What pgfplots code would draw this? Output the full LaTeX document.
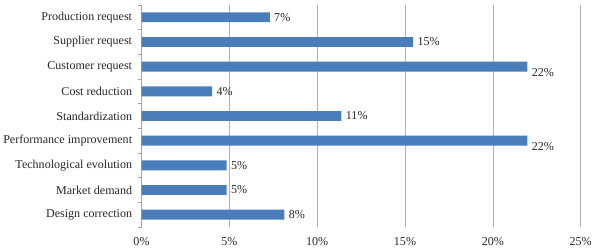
\documentclass[border=0pt]{standalone}
\usepackage{fontspec}
\setmainfont{Liberation Serif}
\usepackage{pgfplots}
\usepackage{pgfplotstable}
\pgfplotsset{compat=1.18}
\definecolor{barblue}{RGB}{74,126,187}
\pgfplotstableread{
y x label
0 8.13 8\%
1 4.85 5\%
2 4.85 5\%
4 11.38 11\%
5 4.02 4\%
7 15.46 15\%
8 7.30 7\%
}\datatable
\pgfplotstableread{
y x label
3 21.97 22\%
6 21.97 22\%
}\datatablelow
\begin{document}
\begin{tikzpicture}
\begin{axis}[
  xbar,
  scale only axis,
  width=443bp, height=224bp,
  xmin=0, xmax=25, ymin=-0.5, ymax=8.5,
  xtick={0,5,10,15,20,25},
  xticklabel={\pgfmathprintnumber{\tick}\%},
  /pgf/number format/assume math mode=true,
  ytick={0,1,2,3,4,5,6,7,8},
  yticklabels={Design correction, Market demand, Technological evolution, Performance improvement, Standardization, Cost reduction, Customer request, Supplier request, Production request},
  minor ytick={-0.5,0.5,1.5,2.5,3.5,4.5,5.5,6.5,7.5,8.5},
  axis x line*=bottom,
  axis y line*=left,
  x axis line style={draw=none},
  y axis line style={draw=gray!70, line width=0.6pt},
  tick align=outside,
  major tick length=0pt,
  minor tick length=4bp,
  minor tick style={draw=gray!70, line width=0.6pt},
  xmajorgrids,
  major grid style={draw=gray!60, line width=0.6pt},
  ticklabel style={font=\fontsize{12.2}{14}\selectfont, text=black!85},
  xticklabel style={yshift=-7bp},
  yticklabel style={xshift=-6bp},
  bar width=10bp,
  bar shift=0pt,
  nodes near coords,
  nodes near coords align={horizontal},
  point meta=explicit symbolic,
  every node near coord/.append style={font=\fontsize{12.2}{14}\selectfont, text=black!85, anchor=west, xshift=1bp},
]
\addplot[fill=barblue, draw=none] table[x=x, y=y, meta=label] {\datatable};
\addplot[fill=barblue, draw=none, every node near coord/.append style={yshift=-6bp}] table[x=x, y=y, meta=label] {\datatablelow};
\end{axis}
\path (current axis.north) ++(0,5bp);
\end{tikzpicture}
\end{document}
